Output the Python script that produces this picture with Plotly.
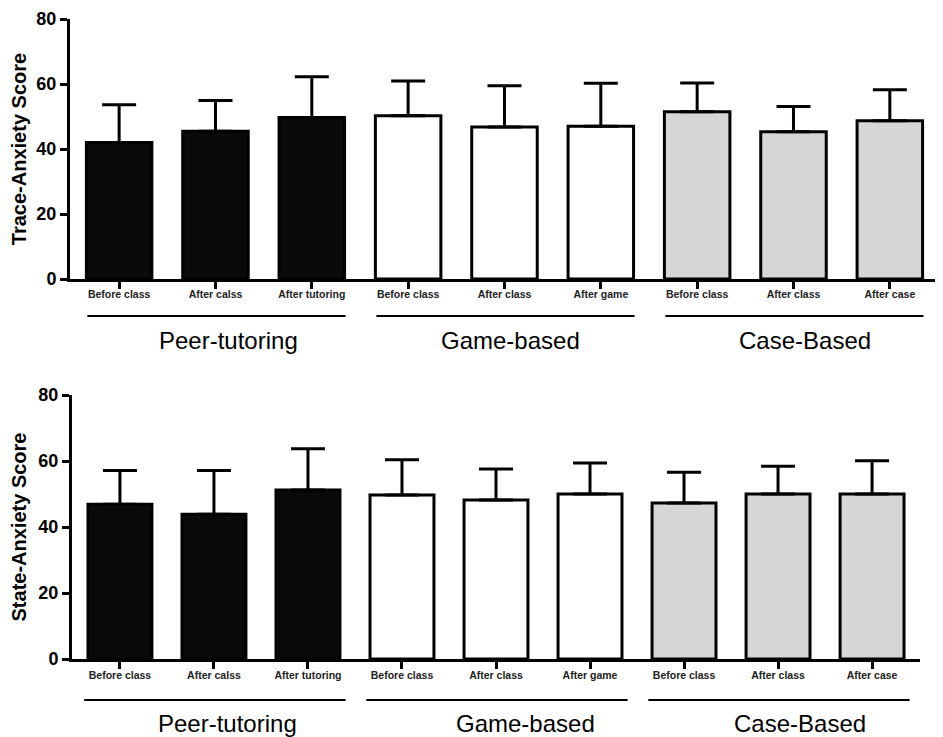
import plotly.graph_objects as go

# ---- data ----
groups = ["Peer-tutoring", "Game-based", "Case-Based"]
labels_top = ["Before class", "After calss", "After tutoring",
              "Before class", "After class", "After game",
              "Before class", "After class", "After case"]
labels_bottom = ["Before class", "After calss", "After tutoring",
                 "Before class", "After class", "After game",
                 "Before class", "After class", "After case"]
trait_mean = [42.0, 45.5, 49.7, 50.2, 46.8, 47.0, 51.5, 45.3, 48.7]
trait_sd = [11.6, 9.4, 12.5, 10.7, 12.7, 13.2, 8.8, 7.8, 9.5]
state_mean = [46.9, 43.9, 51.2, 49.7, 48.2, 50.0, 47.3, 50.0, 50.0]
state_sd = [10.2, 13.2, 12.5, 10.7, 9.4, 9.4, 9.3, 8.4, 10.1]
y_ticks = [0, 20, 40, 60, 80]

group_fill = ["#0a0a0a", "#ffffff", "#d6d6d6"]
FONT = "Liberation Sans, Arial, Helvetica, sans-serif"

# page body has an 8px default margin: size the figure to fill the rest
OFF = 8
W, H = 943 - OFF, 737 - OFF


def px_x(v):
    return (v - OFF) / W


def px_y(v):
    return 1 - (v - OFF) / H


fig = go.Figure()

panels = [
    dict(x="x", y="y", mean=trait_mean, sd=trait_sd),
    dict(x="x2", y="y2", mean=state_mean, sd=state_sd),
]

for p in panels:
    for g in range(len(groups)):
        idx = list(range(g * 3, g * 3 + 3))
        fig.add_trace(go.Bar(
            x=idx,
            y=[p["mean"][i] for i in idx],
            xaxis=p["x"], yaxis=p["y"],
            width=0.68,
            marker=dict(color=group_fill[g], line=dict(color="black", width=3)),
            error_y=dict(type="data", symmetric=False,
                         array=[p["sd"][i] for i in idx],
                         arrayminus=[0] * 3,
                         color="black", thickness=3, width=17),
            showlegend=False,
            hoverinfo="y",
        ))

axis_common = dict(showline=True, linecolor="black", linewidth=3,
                   ticks="outside", ticklen=7, tickwidth=3, tickcolor="black",
                   showgrid=False, zeroline=False, automargin=False)

fig.update_layout(
    width=W, height=H,
    margin=dict(l=0, r=0, t=0, b=0, autoexpand=False),
    paper_bgcolor="white", plot_bgcolor="white",
    font=dict(family=FONT, color="black"),
    xaxis=dict(domain=[px_x(70), px_x(938)], anchor="y", range=[-0.51, 8.5],
               tickvals=list(range(9)), ticktext=labels_top,
               tickfont=dict(size=10.5, weight="bold", color="#222"),
               ticklabelstandoff=-4,
               **axis_common),
    yaxis=dict(domain=[px_y(279), px_y(19)], anchor="x", range=[0, 80],
               tickvals=y_ticks,
               tickfont=dict(size=18, weight="bold"),
               title=dict(text="Trace-Anxiety Score", standoff=10,
                          font=dict(size=20, weight="bold")),
               **axis_common),
    xaxis2=dict(domain=[px_x(72), px_x(920)], anchor="y2", range=[-0.51, 8.51],
                tickvals=list(range(9)), ticktext=labels_bottom,
                tickfont=dict(size=10.5, weight="bold", color="#222"),
                ticklabelstandoff=-3,
                **axis_common),
    yaxis2=dict(domain=[px_y(659), px_y(395)], anchor="x2", range=[0, 80],
                tickvals=y_ticks,
                tickfont=dict(size=18, weight="bold"),
                title=dict(text="State-Anxiety Score", standoff=10,
                           font=dict(size=20, weight="bold")),
                **axis_common),
)

# group brackets and labels (label nudges relative to group centre)
shapes = []
annotations = []
for xref, line_y, lab_y, lo, hi, nudge in [
        ("x", px_y(316), px_y(340), -0.33, 2.35, [0.14, 0.06, 0.12]),
        ("x2", px_y(700), px_y(723), -0.38, 2.4, [0.14, 0.31, 0.23])]:
    for g, name in enumerate(groups):
        shapes.append(dict(type="line", xref=xref, yref="paper",
                           x0=g * 3 + lo, x1=g * 3 + hi, y0=line_y, y1=line_y,
                           line=dict(color="black", width=2)))
        annotations.append(dict(xref=xref, yref="paper", x=g * 3 + 1 + nudge[g],
                                y=lab_y, text=name, showarrow=False,
                                xanchor="center", yanchor="middle",
                                font=dict(size=24, family=FONT, color="black")))
fig.update_layout(shapes=shapes, annotations=annotations)

fig.write_html("out.html")
